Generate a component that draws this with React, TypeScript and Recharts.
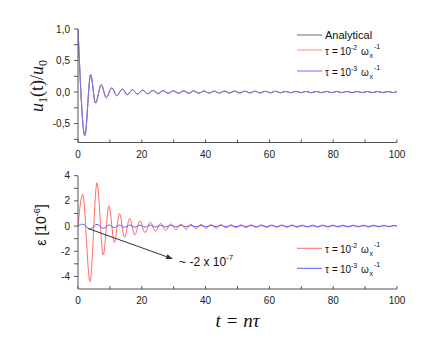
import React from 'react';
import { LineChart, Line, XAxis, YAxis, ReferenceLine, Legend, Label } from 'recharts';

const AXIS = '#555';
const SANS = '"Liberation Sans", Arial, sans-serif';
const SERIF = '"Liberation Serif", "Times New Roman", serif';

// x ticks
const xTicks = [0, 10, 20, 30, 40, 50, 60, 70, 80, 90, 100];
const xMajor = [0, 20, 40, 60, 80, 100];

// top panel: u1(t)/u0
const topYTicks = [-0.75, -0.5, -0.25, 0, 0.25, 0.5, 0.75, 1];
const topYMajor = [-0.5, 0, 0.5, 1];
const topT = [0, 2.15, 3.95, 5.5, 7.3, 8.85, 10.6, 12.15, 13.9, 15.45, 17.05, 18.65, 20.25, 21.85, 23.5, 25.1,
  26.7, 28.3, 29.9, 31.5, 33.1, 34.7, 36.3, 37.9, 39.5, 41.1, 42.7, 44.3, 45.9, 47.5, 49.1, 50.7,
  52.3, 53.9, 55.5, 57.1, 58.7, 60.3, 61.9, 63.5, 65.1, 66.7, 68.3, 69.9, 71.5, 73.1, 74.7, 76.3,
  77.9, 79.5, 81.1, 82.7, 84.3, 85.9, 87.5, 89.1, 90.7, 92.3, 93.9, 95.5, 97.1, 98.7, 100];
const topAnalytical = [1.0, -0.69, 0.275, -0.175, 0.118, -0.09, 0.066, -0.058, 0.048, -0.042, 0.036, -0.033, 0.03, -0.028, 0.026, -0.024,
  0.022, -0.021, 0.02, -0.019, 0.018, -0.018, 0.017, -0.017, 0.016, -0.016, 0.015, -0.015, 0.015, -0.014, 0.014, -0.014,
  0.013, -0.013, 0.013, -0.013, 0.012, -0.012, 0.012, -0.012, 0.011, -0.011, 0.011, -0.011, 0.011, -0.011, 0.01, -0.01,
  0.01, -0.01, 0.01, -0.01, 0.01, -0.01, 0.009, -0.009, 0.009, -0.009, 0.009, -0.009, 0.009, -0.009, 0.009];
const topTau2 = topAnalytical;
const topTau3 = topAnalytical;

// bottom panel: error eps [1e-6]
const botYTicks = [-4, -3, -2, -1, 0, 1, 2, 3, 4];
const botYMajor = [-4, -2, 0, 2, 4];
const botT = [0, 1.47, 3.76, 5.96, 7.9, 9.7, 11.4, 13.0, 14.6, 16.2, 17.8, 19.4, 21.0, 22.7, 24.3, 25.9,
  27.5, 29.1, 30.7, 32.3, 33.9, 35.4, 37.0, 38.6, 40.1, 41.7, 43.3, 44.8, 46.4, 48.0, 49.5, 51.1,
  52.7, 54.3, 55.9, 57.5, 59.1, 60.7, 62.3, 63.9, 65.5, 67.1, 68.7, 70.3, 71.9, 73.5, 75.1, 76.7,
  78.3, 79.9, 81.5, 83.1, 84.7, 86.3, 87.9, 89.5, 91.1, 92.7, 94.3, 95.9, 97.5, 99.1, 100];
const botTau2 = [0, 2.54, -4.42, 3.44, -2.3, 1.61, -1.32, 1.0, -0.9, 0.62, -0.72, 0.42, -0.52, 0.3, -0.42, 0.22,
  -0.34, 0.18, -0.3, 0.16, -0.26, 0.15, -0.22, 0.14, -0.2, 0.12, -0.18, 0.12, -0.16, 0.11, -0.15, 0.1,
  -0.14, 0.1, -0.13, 0.1, -0.12, 0.09, -0.11, 0.09, -0.1, 0.09, -0.1, 0.08, -0.09, 0.08, -0.09, 0.08,
  -0.08, 0.08, -0.08, 0.07, -0.08, 0.07, -0.07, 0.07, -0.07, 0.07, -0.07, 0.06, -0.06, 0.06, 0];
const botTau3 = [0, 0.15, -0.25, 0.14, -0.18, 0.09, -0.12, 0.08, -0.1, 0.08, -0.09, 0.07, -0.08, 0.07, -0.08, 0.06,
  -0.07, 0.06, -0.07, 0.06, -0.06, 0.05, -0.06, 0.05, -0.05, 0.05, -0.05, 0.05, -0.05, 0.04, -0.05, 0.04,
  -0.04, 0.04, -0.04, 0.04, -0.04, 0.04, -0.04, 0.04, -0.04, 0.04, -0.04, 0.03, -0.04, 0.03, -0.03, 0.03,
  -0.03, 0.03, -0.03, 0.03, -0.03, 0.03, -0.03, 0.03, -0.03, 0.03, -0.03, 0.03, -0.03, 0.03, 0];

// annotation arrow (data coordinates)
const arrowStart = { x: 3.13, y: -0.19 };
const arrowEnd = { x: 29.8, y: -2.62 };

const topRows = topT.map((t, i) => ({ t, analytical: topAnalytical[i], tau2: topTau2[i], tau3: topTau3[i] }));
const botRows = botT.map((t, i) => ({ t, red: botTau2[i], blue: botTau3[i] }));

const XTick = (props: any) => {
  const { x, y, payload } = props;
  const v = payload.value;
  return (
    <g>
      <line x1={x} x2={x} y1={y} y2={y - 3} stroke={AXIS} />
      {xMajor.includes(v) && (
        <text x={x} y={y + 15} textAnchor="middle" fontSize={10} fontFamily={SANS} fill="#222">{v}</text>
      )}
    </g>
  );
};

const makeYTick = (major: number[], fmt: (v: number) => string) => (props: any) => {
  const { x, y, payload } = props;
  const v = payload.value;
  return (
    <g>
      <line x1={x - 4} x2={x} y1={y} y2={y} stroke={AXIS} />
      {major.includes(v) && (
        <text x={x - 8} y={y + 3.5} textAnchor="end" fontSize={10} fontFamily={SANS} fill="#222">{fmt(v)}</text>
      )}
    </g>
  );
};

const TopYTick = makeYTick(topYMajor, (v) => v.toFixed(1).replace('.', ','));
const BotYTick = makeYTick(botYMajor, (v) => String(v));

const TopYLabel = () => (
  <text transform="rotate(-90, 43, 86)" x={43} y={86} textAnchor="middle" fontFamily={SERIF} fontSize={18} fill="#111">
    <tspan fontStyle="italic">u</tspan>
    <tspan fontSize={12} dy={4}>1</tspan>
    <tspan dy={-4}>(t)/</tspan>
    <tspan fontStyle="italic">u</tspan>
    <tspan fontSize={12} dy={4}>0</tspan>
  </text>
);

const BotYLabel = () => (
  <text transform="rotate(-90, 46, 65)" x={46} y={65} textAnchor="middle" fontFamily={SANS} fontSize={14} fill="#111">
    <tspan>ε [10</tspan>
    <tspan fontSize={9} dy={-6}>-6</tspan>
    <tspan dy={6}>]</tspan>
  </text>
);

const BotXLabel = () => (
  <text x={237.5} y={167} textAnchor="middle" fontFamily={SERIF} fontStyle="italic" fontSize={19} fill="#111">t = nτ</text>
);

const ArrowShape = (p: any) => {
  const { x1, y1, x2, y2 } = p;
  const ang = Math.atan2(y2 - y1, x2 - x1);
  const L = 7, W = 2.5;
  const bx = x2 - L * Math.cos(ang), by = y2 - L * Math.sin(ang);
  const pts = `${x2},${y2} ${bx - W * Math.sin(ang)},${by + W * Math.cos(ang)} ${bx + W * Math.sin(ang)},${by - W * Math.cos(ang)}`;
  return (
    <g>
      <line x1={x1} y1={y1} x2={bx} y2={by} stroke="#333" strokeWidth={1} />
      <polygon points={pts} fill="#333" />
      <text x={x2 + 6} y={y2 + 7} fontSize={12} fontFamily={SANS} fill="#111">
        <tspan>~ -2 x 10</tspan>
        <tspan fontSize={8} dy={-6}>-7</tspan>
      </text>
    </g>
  );
};

const LegendItem = ({ y, color, label, exp }: any) => (
  <g>
    <line x1={7} x2={32} y1={y} y2={y} stroke={color} strokeWidth={1} />
    {label ? (
      <text x={35} y={y + 4} fontSize={11} fontFamily={SANS} fill="#111">{label}</text>
    ) : (
      <text fontFamily={SANS} fill="#111">
        <tspan x={35} y={y + 4.5} fontSize={10}>τ</tspan>
        <tspan x={42} y={y + 4.5} fontSize={10}>=</tspan>
        <tspan x={50} y={y + 4.5} fontSize={10}>10</tspan>
        <tspan x={61} y={y} fontSize={7}>{exp}</tspan>
        <tspan x={71} y={y + 4.5} fontSize={10}>ω</tspan>
        <tspan x={79.5} y={y + 8} fontSize={7}>x</tspan>
        <tspan x={84} y={y - 1} fontSize={7}>-1</tspan>
      </text>
    )}
  </g>
);

const legendInfo: Record<string, { label?: string; exp?: string }> = {
  analytical: { label: 'Analytical' },
  tau2: { exp: '-2' },
  tau3: { exp: '-3' },
  red: { exp: '-2' },
  blue: { exp: '-3' },
};

const makeLegend = (ys: number[]) => (props: any) => {
  const items = props.payload || [];
  return (
    <svg width={130} height={60} style={{ display: 'block', overflow: 'visible' }}>
      {items.map((it: any, i: number) => (
        <LegendItem key={String(it.dataKey)} y={ys[i]} color={it.color} {...legendInfo[String(it.dataKey)]} />
      ))}
    </svg>
  );
};

const TopLegend = makeLegend([10, 25, 46]);
const BotLegend = makeLegend([8.3, 28.3]);

export default function App() {
  return (
    <div style={{ position: 'absolute', left: 0, top: 0, width: 428, height: 353, background: '#fff' }}>
      <div style={{ position: 'absolute', left: 0, top: 0 }}>
        <LineChart width={428} height={170} data={topRows} margin={{ top: 29, right: 31, left: 38, bottom: 7.5 }}>
          <XAxis dataKey="t" type="number" domain={[0, 100]} ticks={xTicks} interval={0} tickSize={0} tickMargin={0}
            tickLine={false} tick={XTick} stroke={AXIS} height={20} allowDataOverflow />
          <YAxis type="number" domain={[-0.8, 1]} ticks={topYTicks} interval={0} tickSize={0} tickMargin={0}
            tickLine={false} tick={TopYTick} stroke={AXIS} width={40} allowDataOverflow
            label={<Label content={TopYLabel} />} />
          <Legend layout="horizontal" verticalAlign="middle" align="center" content={TopLegend} itemSorter={null as any}
            wrapperStyle={{ position: 'absolute', left: 290, top: 25, width: 130, height: 60 }} />
          <Line dataKey="analytical" name="a" type="monotone" stroke="#6a6a8a" strokeWidth={1} dot={false} isAnimationActive={false} />
          <Line dataKey="tau2" name="b" type="monotone" stroke="#ff8a8a" strokeWidth={1} dot={false} isAnimationActive={false} />
          <Line dataKey="tau3" name="c" type="monotone" stroke="#7272f0" strokeWidth={1} dot={false} isAnimationActive={false} />
        </LineChart>
      </div>
      <div style={{ position: 'absolute', left: 0, top: 160 }}>
        <LineChart width={428} height={193} data={botRows} margin={{ top: 15.7, right: 31, left: 38, bottom: 24 }}>
          <XAxis dataKey="t" type="number" domain={[0, 100]} ticks={xTicks} interval={0} tickSize={0} tickMargin={0}
            tickLine={false} tick={XTick} stroke={AXIS} height={40} allowDataOverflow
            label={<Label content={BotXLabel} />} />
          <YAxis type="number" domain={[-5, 4]} ticks={botYTicks} interval={0} tickSize={0} tickMargin={0}
            tickLine={false} tick={BotYTick} stroke={AXIS} width={40} allowDataOverflow
            label={<Label content={BotYLabel} />} />
          <Legend layout="horizontal" verticalAlign="middle" align="center" content={BotLegend} itemSorter={null as any}
            wrapperStyle={{ position: 'absolute', left: 290, top: 80, width: 130, height: 40 }} />
          <Line dataKey="red" name="a" type="monotone" stroke="#ff6a6a" strokeWidth={1} dot={false} isAnimationActive={false} />
          <Line dataKey="blue" name="b" type="monotone" stroke="#5a5aff" strokeWidth={1} dot={false} isAnimationActive={false} />
          <ReferenceLine segment={[arrowStart, arrowEnd]} shape={ArrowShape} stroke="#333" />
        </LineChart>
      </div>
    </div>
  );
}
